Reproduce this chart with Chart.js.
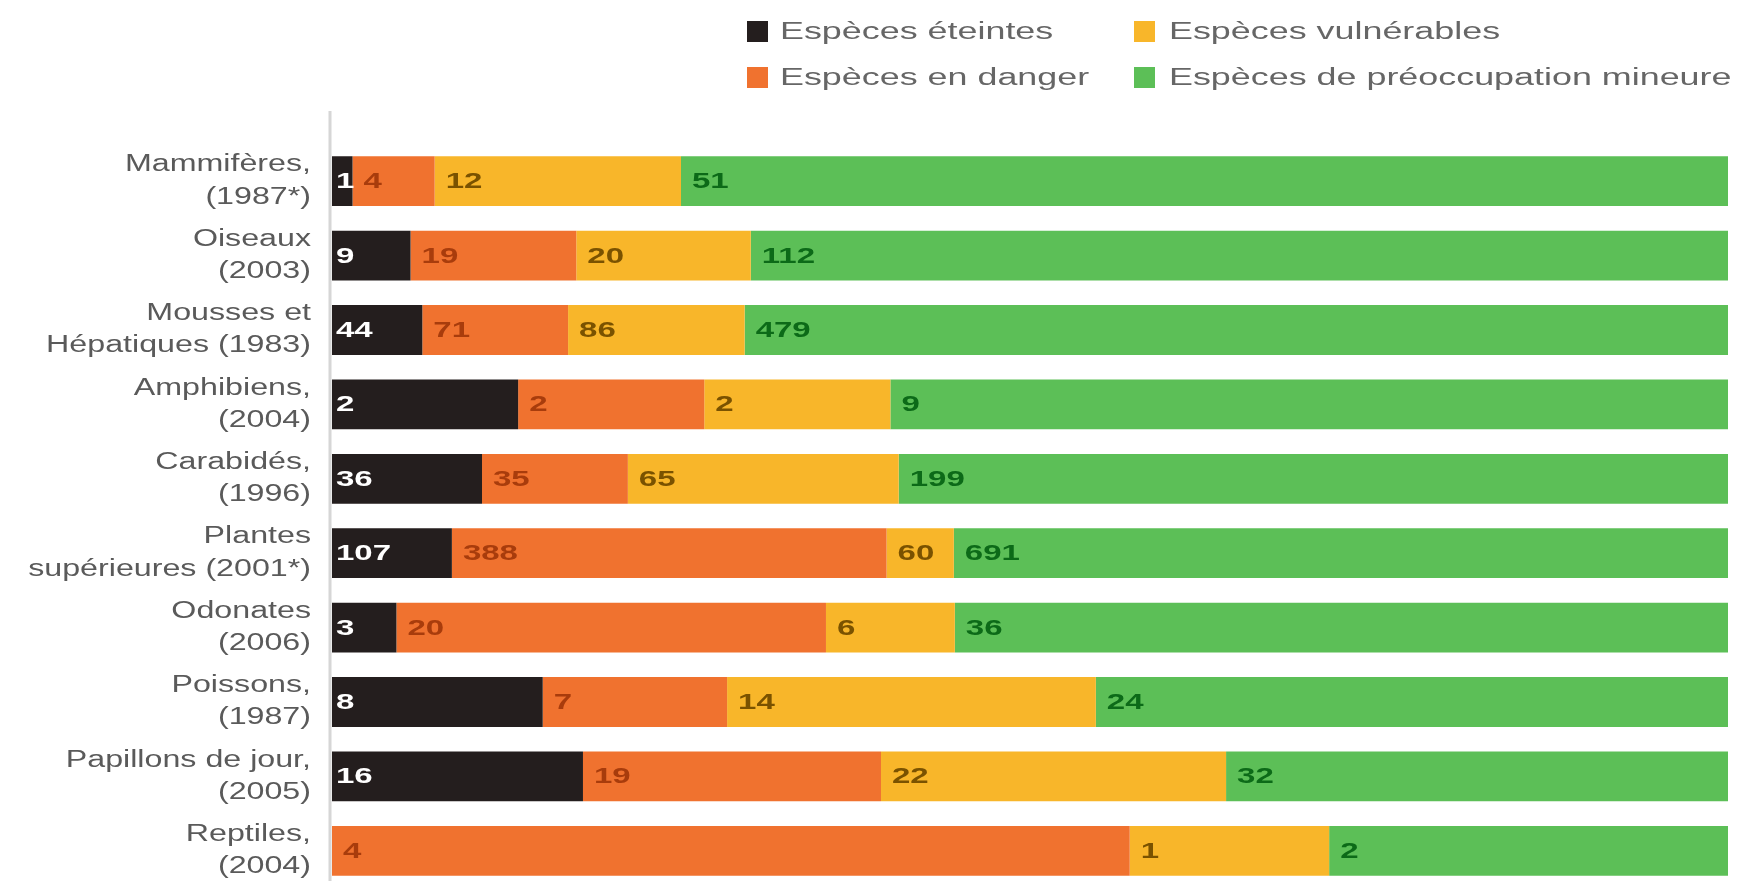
<!DOCTYPE html>
<html>
<head>
<meta charset="utf-8">
<script src="https://cdn.jsdelivr.net/npm/chart.js@4"></script>
<style>
    html, body { margin: 0; padding: 0; background: #fff; overflow: hidden; }
    #wrap { position: relative; width: 1742px; height: 881px; overflow: hidden; }
    #chart { position: absolute; left: 0; top: 0; }
    .leg { position: absolute; height: 21px; }
    .leg .sq { position: absolute; left: 0; top: 0; width: 21px; height: 21px; }
    .leg .tx { position: absolute; top: -3px; white-space: nowrap;
               font-family: "Liberation Sans", Arial, sans-serif; font-size: 23px; color: #666;
               transform: scaleX(1.56); transform-origin: left center; }
</style>
</head>
<body>
<div id="wrap">
    <canvas id="chart" width="1742" height="895"></canvas>
    <div id="legende"></div>
</div>
<script>
// categories (nom + année de la liste rouge)
const categories = [
    ["Mammifères,", "(1987*)"],
    ["Oiseaux", "(2003)"],
    ["Mousses et", "Hépatiques (1983)"],
    ["Amphibiens,", "(2004)"],
    ["Carabidés,", "(1996)"],
    ["Plantes", "supérieures (2001*)"],
    ["Odonates", "(2006)"],
    ["Poissons,", "(1987)"],
    ["Papillons de jour,", "(2005)"],
    ["Reptiles,", "(2004)"]
];

// nombres d'espèces par statut
const eteintes    = [1, 9, 44, 2, 36, 107, 3, 8, 16, 0];
const enDanger    = [4, 19, 71, 2, 35, 388, 20, 7, 19, 4];
const vulnerables = [12, 20, 86, 2, 65, 60, 6, 14, 22, 1];
const mineure     = [51, 112, 479, 9, 199, 691, 36, 24, 32, 2];

const series = [
    { label: "Espèces éteintes", data: eteintes, color: "#241e1e", text: "#ffffff" },
    { label: "Espèces en danger", data: enDanger, color: "#f0722f", text: "#a83c0c" },
    { label: "Espèces vulnérables", data: vulnerables, color: "#f8b62a", text: "#7a5200" },
    { label: "Espèces de préoccupation mineure", data: mineure, color: "#5cbf57", text: "#0c6a18" }
];

const totaux = categories.map((c, i) => series.reduce((s, d) => s + d.data[i], 0));

// =========================
// legende (2 x 2)
// =========================
const legendePos = [
    { s: 0, x: 747, y: 21, gap: 33 },
    { s: 2, x: 1134, y: 21, gap: 35 },
    { s: 1, x: 747, y: 67, gap: 33 },
    { s: 3, x: 1134, y: 67, gap: 35 }
];
const legende = document.getElementById("legende");
legendePos.forEach(p => {
    const d = document.createElement("div");
    d.className = "leg";
    d.style.left = p.x + "px";
    d.style.top = p.y + "px";
    d.innerHTML = '<span class="sq" style="background:' + series[p.s].color + '"></span>' +
        '<span class="tx" style="left:' + p.gap + 'px">' + series[p.s].label + '</span>';
    legende.appendChild(d);
});

// =========================
// plugins
// =========================
const ETIRE = 1.4;

const axeGauche = {
    id: "axeGauche",
    afterLayout(chart) {
        // labels de l'axe y un peu étirés en largeur, comme l'original
        const ys = chart.scales.y;
        if (ys && !ys._etire) {
            const orig = ys.drawLabels;
            ys.drawLabels = function (area) {
                const c = this.ctx;
                const ax = this.right - this.options.ticks.padding;
                c.save();
                c.translate(ax, 0);
                c.scale(ETIRE, 1);
                c.translate(-ax, 0);
                orig.call(this, area);
                c.restore();
            };
            ys._etire = true;
        }
    },
    beforeDatasetsDraw(chart) {
        const ctx = chart.ctx;
        const a = chart.chartArea;
        ctx.save();
        ctx.strokeStyle = "#d6d6d6";
        ctx.lineWidth = 3;
        ctx.beginPath();
        ctx.moveTo(a.left - 2, a.top - 33);
        ctx.lineTo(a.left - 2, a.bottom);
        ctx.stroke();
        ctx.restore();
    }
};

const etiquettes = {
    id: "etiquettes",
    afterDatasetsDraw(chart) {
        const ctx = chart.ctx;
        chart.data.datasets.forEach((ds, di) => {
            const meta = chart.getDatasetMeta(di);
            meta.data.forEach((bar, i) => {
                const n = series[di].data[i];
                if (!n) return;
                const x0 = Math.min(bar.x, bar.base);
                ctx.save();
                ctx.font = "bold 22px 'Liberation Sans', Arial, sans-serif";
                ctx.textBaseline = "middle";
                ctx.textAlign = "left";
                ctx.fillStyle = series[di].text;
                ctx.translate(x0 + (di === 0 ? 4 : 11), bar.y + 1);
                ctx.scale(1.5, 1);
                ctx.fillText(String(n), 0, 0);
                ctx.restore();
            });
        });
    }
};

// =========================
// graphique
// =========================
new Chart(document.getElementById("chart"), {
    type: "bar",
    data: {
        labels: categories,
        datasets: series.map(s => ({
            label: s.label,
            data: s.data.map((v, i) => v / totaux[i] * 100),
            backgroundColor: s.color,
            borderWidth: 0,
            barPercentage: 1,
            categoryPercentage: 0.67
        }))
    },
    options: {
        indexAxis: "y",
        responsive: false,
        animation: false,
        layout: { padding: { top: 144, right: 14, bottom: 7, left: 0 } },
        plugins: {
            legend: { display: false },
            tooltip: { enabled: false }
        },
        scales: {
            x: {
                stacked: true,
                min: 0,
                max: 100,
                display: false
            },
            y: {
                stacked: true,
                grid: { display: false, drawTicks: false },
                border: { display: false },
                afterFit(scale) {
                    scale.width = 332;
                    scale.paddingTop = 0;
                    scale.paddingBottom = 0;
                },
                ticks: {
                    autoSkip: false,
                    padding: 21,
                    color: "#5a5a5a",
                    font: { family: "'Liberation Sans', Arial, sans-serif", size: 23, lineHeight: 1.4 }
                }
            }
        }
    },
    plugins: [axeGauche, etiquettes]
});
</script>
</body>
</html>
